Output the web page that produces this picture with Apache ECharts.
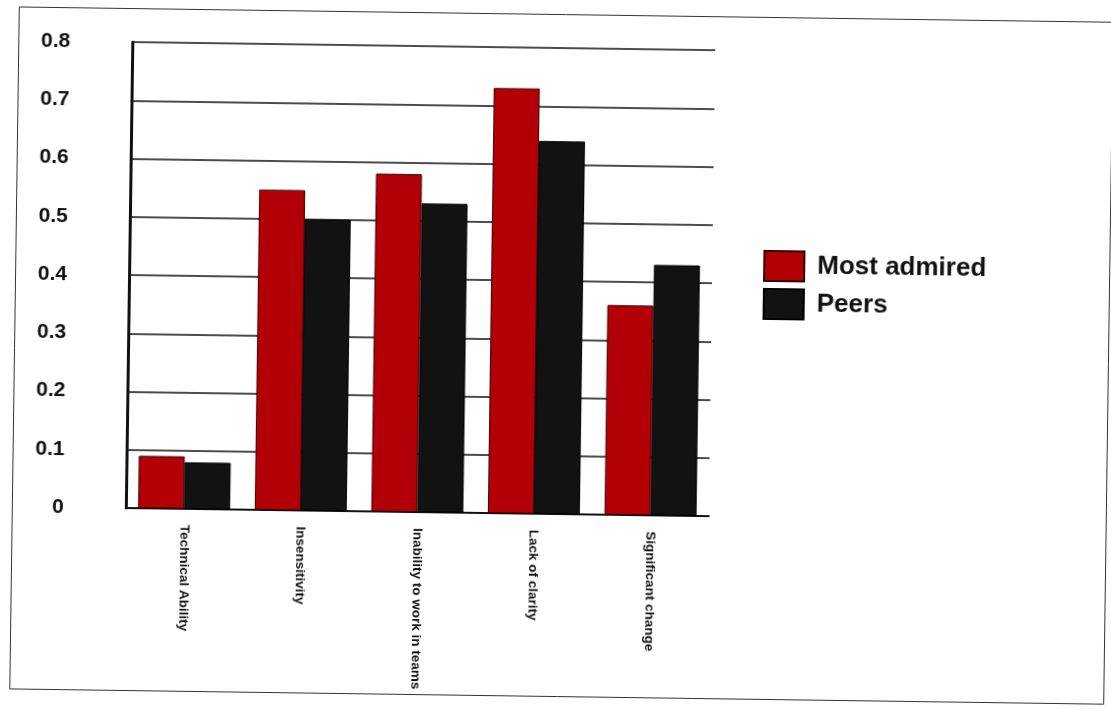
<!DOCTYPE html>
<html>
<head>
<meta charset="utf-8">
<script src="https://cdn.jsdelivr.net/npm/echarts@6/dist/echarts.min.js"></script>
<style>
html, body { margin: 0; padding: 0; background: #fff; overflow: hidden; }
#main { width: 1111px; height: 709px; transform: rotate(0.8deg); }
</style>
</head>
<body>
<div id="main"></div>
<script>
var categories = ['Technical Ability', 'Insensitivity', 'Inability to work in teams', 'Lack of clarity', 'Significant change'];
var mostAdmired = [0.09, 0.55, 0.58, 0.73, 0.36];
var peers = [0.08, 0.50, 0.53, 0.64, 0.43];
var yTicks = [0, 0.1, 0.2, 0.3, 0.4, 0.5, 0.6, 0.7, 0.8];

var myChart = echarts.init(document.getElementById('main'));

var option = {
    backgroundColor: '#fff',
    animation: false,
    graphic: [{
        type: 'rect',
        left: 12, top: 12,
        shape: { width: 1094, height: 682 },
        style: { fill: 'none', stroke: '#333', lineWidth: 1 }
    }],
    legend: {
        data: ['Most admired', 'Peers'],
        orient: 'vertical',
        left: 757,
        top: 242,
        itemWidth: 40,
        itemHeight: 30,
        itemGap: 6,
        icon: 'rect',
        textStyle: {
            fontFamily: 'Liberation Sans, Arial',
            fontWeight: 'bold',
            fontSize: 26,
            color: '#111',
            padding: [0, 0, 0, 8]
        }
    },
    grid: {
        left: 128,
        right: 400,
        top: 48,
        bottom: 195
    },
    xAxis: {
        type: 'category',
        data: categories,
        axisTick: { show: false },
        axisLine: { lineStyle: { color: '#111', width: 2 } },
        axisLabel: {
            rotate: -90,
            margin: 16,
            fontFamily: 'Liberation Sans, Arial',
            fontWeight: 'bold',
            fontSize: 13.5,
            color: '#111'
        }
    },
    yAxis: {
        type: 'value',
        min: 0,
        max: 0.8,
        interval: 0.1,
        axisLine: { show: true, lineStyle: { color: '#111', width: 3 } },
        axisTick: { show: false },
        splitLine: { lineStyle: { color: '#111', width: 1.5 } },
        axisLabel: {
            margin: 62,
            fontFamily: 'Liberation Sans, Arial',
            fontWeight: 'bold',
            fontSize: 21,
            color: '#111',
            formatter: function (v) {
                var t = yTicks.filter(function (x) { return Math.abs(x - v) < 1e-9; });
                return t.length ? String(Math.round(v * 10) / 10) : '';
            }
        }
    },
    series: [
        {
            name: 'Most admired',
            type: 'bar',
            data: mostAdmired,
            barWidth: 46,
            barGap: '0%',
            itemStyle: { color: '#b30006', borderColor: '#300', borderWidth: 1 }
        },
        {
            name: 'Peers',
            type: 'bar',
            data: peers,
            barWidth: 46,
            itemStyle: { color: '#121212', borderColor: '#000', borderWidth: 1 }
        }
    ]
};
myChart.setOption(option);
</script>
</body>
</html>
